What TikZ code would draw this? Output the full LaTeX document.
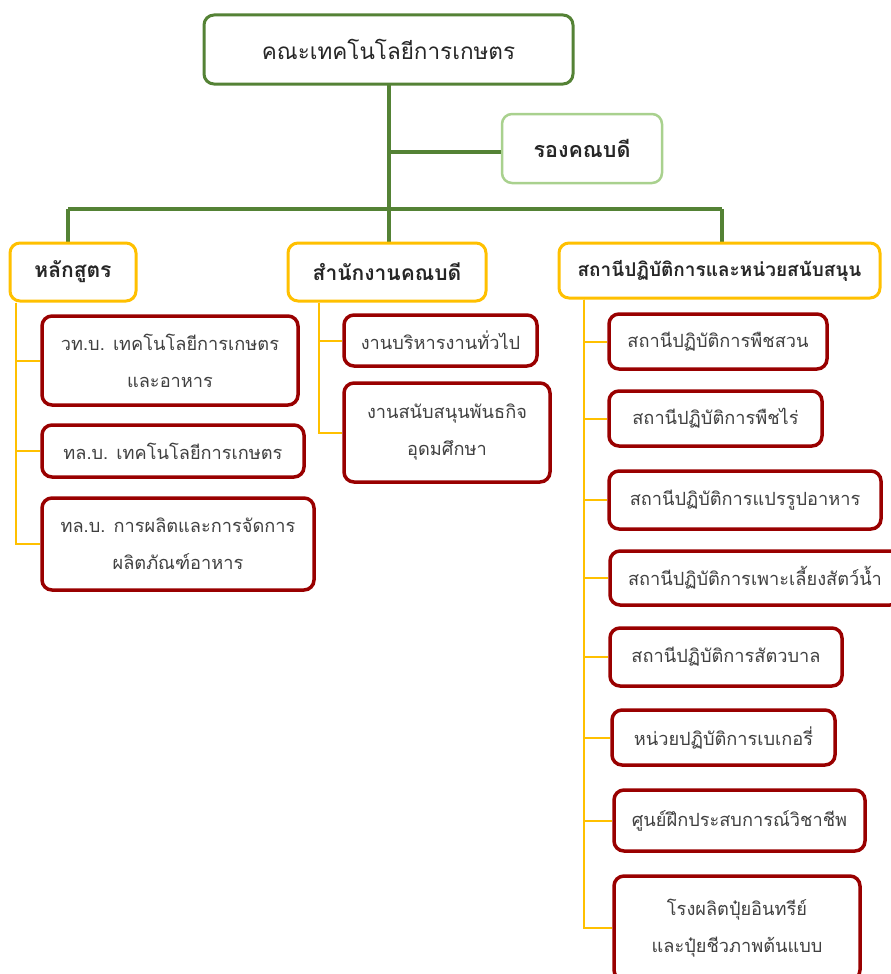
\documentclass[tikz,border=0pt]{standalone}
\usepackage{fontspec}
\newfontfamily\thai[Script=Thai]{Loma}
\definecolor{dgreen}{HTML}{548235}
\definecolor{lgreen}{HTML}{A9D18E}
\definecolor{gold}{HTML}{FFC000}
\definecolor{dred}{HTML}{990000}
\tikzset{
  box/.style={rectangle, rounded corners=10pt, fill=white, align=center, inner sep=0pt, text=black!85},
  topbox/.style={box, draw=dgreen, line width=3pt, font=\thai\fontsize{22.5}{26}\selectfont},
  vicebox/.style={box, draw=lgreen, line width=2.5pt, font=\thai\bfseries\fontsize{21.5}{25}\selectfont},
  headbox/.style={box, draw=gold, line width=3pt, font=\thai\bfseries\fontsize{21}{25}\selectfont},
  unitbox/.style={box, draw=dred, line width=3.5pt, font=\thai\fontsize{18.2}{37}\selectfont, text=black!75},
  gline/.style={draw=dgreen, line width=4pt},
  yline/.style={draw=gold, line width=2pt},
}
\begin{document}
\begin{tikzpicture}[x=1pt,y=-1pt]
\useasboundingbox (0,0) rectangle (891,974);
\clip (0,0) rectangle (891,974);
% coordinates of the green tree
\coordinate (jv) at (388.5,152);
\coordinate (jh) at (388.5,209);
\coordinate (jl) at (68,209);
\coordinate (jr) at (722,209);
% boxes of the first levels
\node[vicebox, minimum width=160pt, minimum height=69pt] (vice) at (582,148.5) {รองคณบดี};
\draw[gline] (jv) -- (jv -| vice.west);
\draw[gline] (388.5,84) -- (jh);
\draw[gline] (jl) -- (jr);
\draw[gline] (jl) -- ++(0,34);
\draw[gline] (jh) -- ++(0,34);
\draw[gline] (jr) -- ++(0,34);
\node[topbox, minimum width=369pt, minimum height=69pt] (top) at (388.5,49.5) {คณะเทคโนโลยีการเกษตร};
\node[headbox, minimum width=126pt, minimum height=58pt] (hl) at (73,272) {หลักสูตร};
\node[headbox, minimum width=198pt, minimum height=58pt] (sn) at (387,272) {สำนักงานคณบดี};
\node[headbox, minimum width=321pt, minimum height=55pt, font=\thai\bfseries\fontsize{19}{23}\selectfont] (st) at (719.5,270.5) {สถานีปฏิบัติการและหน่วยสนับสนุน};
% left column
\node[unitbox, minimum width=256pt, minimum height=89pt] (b1) at (170,360.5) {วท.บ. เทคโนโลยีการเกษตร\\และอาหาร};
\node[unitbox, minimum width=262pt, minimum height=52pt] (b2) at (173,451) {ทล.บ. เทคโนโลยีการเกษตร};
\node[unitbox, minimum width=272pt, minimum height=92pt] (b3) at (178,544) {ทล.บ. การผลิตและการจัดการ\\ผลิตภัณฑ์อาหาร};
\coordinate (lt) at ([xshift=7pt]hl.south west);
% middle column
\node[unitbox, minimum width=193pt, minimum height=51pt] (m1) at (440.5,340.5) {งานบริหารงานทั่วไป};
\node[unitbox, minimum width=206pt, minimum height=99pt] (m2) at (447,432.5) {งานสนับสนุนพันธกิจ\\อุดมศึกษา};
\coordinate (mt) at ([xshift=32pt]sn.south west);
% right column
\node[unitbox, minimum width=218pt, minimum height=55pt] (r1) at (718,341.5) {สถานีปฏิบัติการพืชสวน};
\node[unitbox, minimum width=213pt, minimum height=55pt] (r2) at (715.5,418.5) {สถานีปฏิบัติการพืชไร่};
\node[unitbox, minimum width=272pt, minimum height=58pt] (r3) at (745,500) {สถานีปฏิบัติการแปรรูปอาหาร};
\node[unitbox, minimum width=290pt, minimum height=54pt] (r4) at (755,578) {สถานีปฏิบัติการเพาะเลี้ยงสัตว์น้ำ};
\node[unitbox, minimum width=232pt, minimum height=58pt] (r5) at (726,657) {สถานีปฏิบัติการสัตวบาล};
\node[unitbox, minimum width=223pt, minimum height=55pt] (r6) at (723.5,737.5) {หน่วยปฏิบัติการเบเกอรี่};
\node[unitbox, minimum width=251pt, minimum height=61pt] (r7) at (739.5,820.5) {ศูนย์ฝึกประสบการณ์วิชาชีพ};
\node[unitbox, minimum width=246pt, minimum height=104pt] (r8) at (737,928) {โรงผลิตปุ๋ยอินทรีย์\\และปุ๋ยชีวภาพต้นแบบ};
\coordinate (rt) at ([xshift=26pt]st.south west);
% yellow connectors
\foreach \b in {b1,b2,b3} \draw[yline] (lt) |- (\b.west);
\foreach \b in {m1,m2} \draw[yline] (mt) |- (\b.west);
\foreach \b in {r1,r2,r3,r4,r5,r6,r7,r8} \draw[yline] (rt) |- (\b.west);
\end{tikzpicture}
\end{document}
